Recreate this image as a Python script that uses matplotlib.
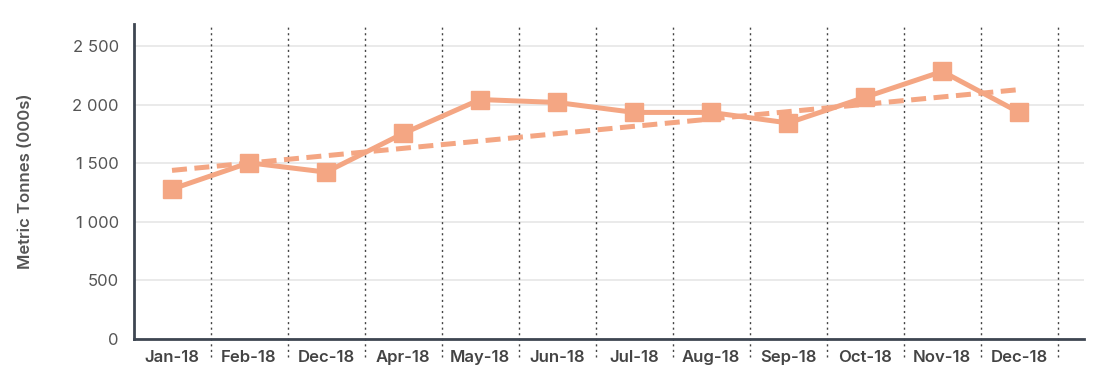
import matplotlib.pyplot as plt
import numpy as np
from matplotlib.ticker import FuncFormatter

months = ['Jan-18', 'Feb-18', 'Dec-18', 'Apr-18', 'May-18', 'Jun-18',
          'Jul-18', 'Aug-18', 'Sep-18', 'Oct-18', 'Nov-18', 'Dec-18']
tonnes = [1280, 1505, 1425, 1755, 2045, 2020, 1935, 1935, 1845, 2065, 2285, 1935]
# dashed trend at first and last month
trend_ends = [1440, 2130]

colour = '#F4A683'
dark = '#3E4652'

plt.rcParams['font.family'] = ['Inter', 'DejaVu Sans']

fig = plt.figure(figsize=(11.08, 3.77), dpi=100)
ax = fig.add_axes([0.1209, 0.1008, 0.8574, 0.8355])

x = np.arange(len(months))
ax.plot(x, tonnes, color=colour, lw=3.6, marker='s', ms=13, zorder=4)
ax.plot([x[0], x[-1]], trend_ends, color=colour, lw=3.6, ls=(0, (3.0, 1.5)),
        zorder=3)

ax.set_xlim(-0.494, 11.84)
ax.set_ylim(0, 2690)
ax.set_yticks([0, 500, 1000, 1500, 2000, 2500])
ax.yaxis.set_major_formatter(FuncFormatter(lambda v, p: f'{v:,.0f}'.replace(',', ' ')))
ax.grid(axis='y', color='#E6E6E6', lw=1.2, zorder=0)
ax.set_axisbelow(True)

for i in range(len(months)):
    ax.axvline(i + 0.5, ymin=-0.057, ymax=1, color='#444444', lw=1,
               ls=(0, (1.5, 2.5)), clip_on=False, zorder=1)

ax.set_xticks(x)
ax.set_xticklabels(months, fontsize=12, fontweight='semibold', color='#444444')
ax.tick_params(axis='x', length=0, pad=8)
ax.tick_params(axis='y', length=0, pad=11, labelsize=12, labelcolor='#555555')

for s in ['top', 'right']:
    ax.spines[s].set_visible(False)
for s in ['left', 'bottom']:
    ax.spines[s].set_color(dark)
    ax.spines[s].set_linewidth(2)

ax.set_ylabel('Metric Tonnes (000s)', fontsize=12, fontweight='semibold',
              color='#555555', labelpad=28)

fig.savefig('out.png', dpi=100)
